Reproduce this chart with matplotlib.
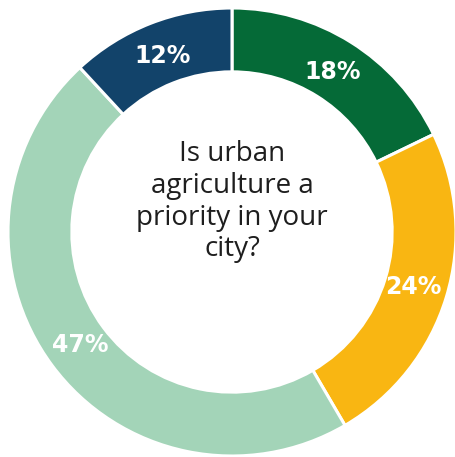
import matplotlib.pyplot as plt
import numpy as np

values = [18, 24, 47, 12]
labels = ['18%', '24%', '47%', '12%']
colors = ['#056a37', '#f9b612', '#a3d4b8', '#12436a']
question = 'Is urban\nagriculture a\npriority in your\ncity?'

fig = plt.figure(figsize=(4.55, 4.57), dpi=100)
ax = fig.add_axes([8 / 455, 1 / 457, 448 / 455, 448 / 457])

wedges, _ = ax.pie(values, colors=colors, startangle=90, counterclock=False,
                   radius=1.0,
                   wedgeprops=dict(width=0.285, edgecolor='white', linewidth=2.2))

# percentage labels placed in the middle of each ring segment
for w, lab in zip(wedges, labels):
    ang = np.deg2rad((w.theta1 + w.theta2) / 2)
    r = 0.845
    ax.text(r * np.cos(ang), r * np.sin(ang), lab, ha='center', va='center',
            color='white', fontsize=17, fontweight='bold', family='DejaVu Sans')

ax.text(0, 0.135, question, ha='center', va='center', fontsize=20,
        color='#1e1e1e', family='Open Sans', linespacing=1.17)

ax.set_xlim(-1, 1)
ax.set_ylim(-1, 1)
ax.set_aspect('equal')
ax.axis('off')

fig.savefig('out.png', dpi=100)
